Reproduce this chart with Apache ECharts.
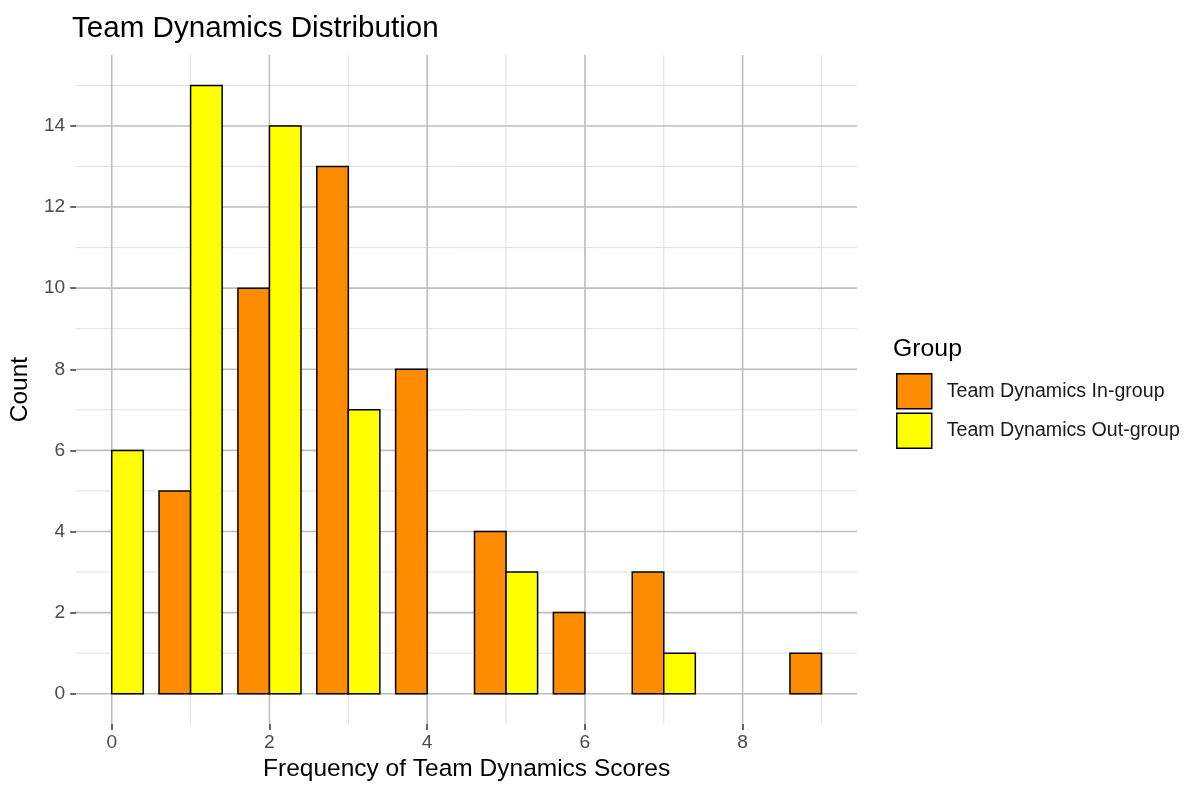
<!DOCTYPE html>
<html>
<head>
<meta charset="utf-8">
<script src="https://cdn.jsdelivr.net/npm/echarts@6/dist/echarts.min.js"></script>
<style>
html,body{margin:0;padding:0;background:#fff;}
#chart{width:1188px;height:787px;}
</style>
</head>
<body>
<div id="chart"></div>
<script>
// ---- data ----
const scores = [0, 1, 2, 3, 4, 5, 6, 7, 8, 9];
const inGroupCounts = [0, 5, 10, 13, 8, 4, 2, 3, 0, 1];
const outGroupCounts = [6, 15, 14, 7, 0, 3, 0, 1, 0, 0];
const seriesNames = ['Team Dynamics In-group', 'Team Dynamics Out-group'];
const xTickLabels = [0, 2, 4, 6, 8];
const yTickLabels = [0, 2, 4, 6, 8, 10, 12, 14];
const xMinorLines = [1, 3, 5, 7, 9];
const yMinorLines = [1, 3, 5, 7, 9, 11, 13, 15];

// ---- styles ----
const X_MIN = -0.45, X_MAX = 9.45, Y_MIN = -0.75, Y_MAX = 15.75;
const BAR_W = 0.4;
const colors = ['#FF8C00', '#FFFF00'];
const FONT = 'Liberation Sans, Arial, Helvetica, sans-serif';

const chart = echarts.init(document.getElementById('chart'), null, {renderer: 'canvas'});

function barSeries(name, counts, offset, color) {
  return {
    name: name,
    type: 'custom',
    z: 5,
    itemStyle: {color: color, borderColor: '#000', borderWidth: 1.5},
    data: scores.map((s, i) => [s, counts[i]]),
    encode: {x: 0, y: 1},
    renderItem: function (params, api) {
      const x = api.value(0), y = api.value(1);
      if (!y) return null;
      const left = api.coord([x + offset - BAR_W / 2, y]);
      const right = api.coord([x + offset + BAR_W / 2, 0]);
      return {
        type: 'rect',
        shape: {x: left[0], y: left[1], width: right[0] - left[0], height: right[1] - left[1]},
        style: {fill: color, stroke: '#000', lineWidth: 1.5}
      };
    }
  };
}

function gridSeries(values, dir, color, width) {
  return {
    type: 'custom',
    z: 1,
    silent: true,
    data: values.map(v => [v]),
    encode: dir === 'v' ? {x: 0} : {y: 0},
    renderItem: function (params, api) {
      const v = api.value(0);
      let p0, p1;
      if (dir === 'v') { p0 = api.coord([v, Y_MIN]); p1 = api.coord([v, Y_MAX]); }
      else { p0 = api.coord([X_MIN, v]); p1 = api.coord([X_MAX, v]); }
      return {
        type: 'line',
        shape: {x1: p0[0], y1: p0[1], x2: p1[0], y2: p1[1]},
        style: {stroke: color, lineWidth: width}
      };
    }
  };
}

const option = {
  backgroundColor: '#fff',
  animation: false,
  title: [
    {text: 'Team Dynamics Distribution', left: 67, top: 9,
     textStyle: {fontFamily: FONT, fontSize: 29.6, fontWeight: 'normal', color: '#000'}},
    {text: 'Group', left: 888, top: 332,
     textStyle: {fontFamily: FONT, fontSize: 24.8, fontWeight: 'normal', color: '#000'}}
  ],
  legend: {
    orient: 'vertical', left: 896, top: 373,
    padding: 0,
    itemWidth: 35, itemHeight: 35, itemGap: 3,
    icon: 'rect',
    textStyle: {fontFamily: FONT, fontSize: 19.6, color: '#1a1a1a', padding: [0, 0, 0, 10]},
    data: [
      {name: seriesNames[0], itemStyle: {color: colors[0], borderColor: '#000', borderWidth: 1.5}},
      {name: seriesNames[1], itemStyle: {color: colors[1], borderColor: '#000', borderWidth: 1.5}}
    ]
  },
  grid: {left: 74, right: 331, top: 55, bottom: 58, containLabel: false},
  xAxis: {
    type: 'value', min: X_MIN, max: X_MAX,
    name: 'Frequency of Team Dynamics Scores', nameLocation: 'middle', nameGap: 32,
    nameTextStyle: {fontFamily: FONT, fontSize: 24.5, color: '#000'},
    axisLine: {show: false, onZero: false},
    axisTick: {show: true, length: 6, lineStyle: {color: '#333', width: 1.5}, customValues: xTickLabels},
    axisLabel: {fontFamily: FONT, fontSize: 19.2, color: '#4D4D4D', margin: 9, customValues: xTickLabels},
    splitLine: {show: false}
  },
  yAxis: {
    type: 'value', min: Y_MIN, max: Y_MAX,
    name: 'Count', nameLocation: 'middle', nameGap: 38, nameRotate: 90,
    nameTextStyle: {fontFamily: FONT, fontSize: 24.5, color: '#000'},
    axisLine: {show: false, onZero: false},
    axisTick: {show: true, length: 6, lineStyle: {color: '#333', width: 1.5}, customValues: yTickLabels},
    axisLabel: {fontFamily: FONT, fontSize: 19.2, color: '#4D4D4D', margin: 11, customValues: yTickLabels},
    splitLine: {show: false}
  },
  series: [
    gridSeries(xMinorLines, 'v', '#E0E0E0', 1),
    gridSeries(yMinorLines, 'h', '#E0E0E0', 1),
    gridSeries(xTickLabels, 'v', '#BEBEBE', 1.6),
    gridSeries(yTickLabels, 'h', '#BEBEBE', 1.6),
    barSeries(seriesNames[0], inGroupCounts, -0.2, colors[0]),
    barSeries(seriesNames[1], outGroupCounts, 0.2, colors[1])
  ]
};
chart.setOption(option);
</script>
</body>
</html>
